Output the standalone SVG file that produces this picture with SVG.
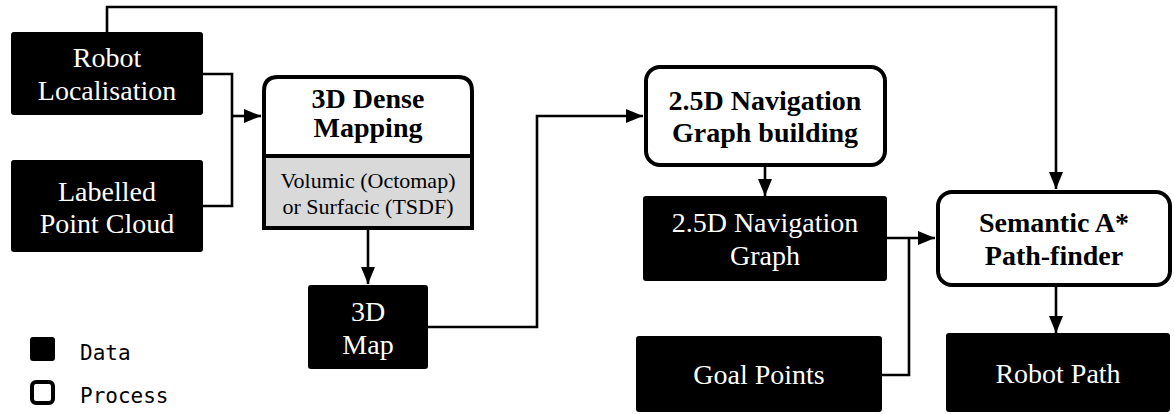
<svg xmlns="http://www.w3.org/2000/svg" width="1174" height="414" viewBox="0 0 1174 414">
<style>
.data{fill:#000;}
.proc{fill:#fff;stroke:#000;stroke-width:4;}
.dt{font-family:"Liberation Serif","Times New Roman",serif;font-size:28px;fill:#fff;text-anchor:middle;}
.pt{font-family:"Liberation Serif","Times New Roman",serif;font-size:28px;font-weight:bold;fill:#000;text-anchor:middle;}
.st{font-family:"Liberation Serif","Times New Roman",serif;font-size:22px;fill:#000;text-anchor:middle;}
.lg{font-family:"DejaVu Sans Mono","Liberation Mono",monospace;font-size:21px;fill:#000;}
.conn{fill:none;stroke:#000;stroke-width:2.6;}
</style>
<defs>
<marker id="arr" markerUnits="userSpaceOnUse" markerWidth="18" markerHeight="14" refX="17" refY="7" orient="auto" viewBox="0 0 18 14">
<path d="M0,0 L17,7 L0,14 z" fill="#000"/>
</marker>
</defs>
<g id="connectors">
<path class="conn" d="M107,32 V7 H1056 V189" marker-end="url(#arr)"/>
<path class="conn" d="M203,74 H232 V206 H203"/>
<path class="conn" d="M232,116 H261" marker-end="url(#arr)"/>
<path class="conn" d="M368,230 V284" marker-end="url(#arr)"/>
<path class="conn" d="M428,327 H537 V116 H643" marker-end="url(#arr)"/>
<path class="conn" d="M765,167 V196" marker-end="url(#arr)"/>
<path class="conn" d="M887,238 H935" marker-end="url(#arr)"/>
<path class="conn" d="M882,375 H909 V238"/>
<path class="conn" d="M1056,287 V333" marker-end="url(#arr)"/>
</g>
<g id="robot-localisation">
<rect class="data" x="11" y="32" width="192" height="83" rx="3"/>
<text class="dt" x="107" y="67">Robot</text>
<text class="dt" x="107" y="100">Localisation</text>
</g>
<g id="labelled-point-cloud">
<rect class="data" x="11" y="160" width="192" height="92" rx="3"/>
<text class="dt" x="107" y="201">Labelled</text>
<text class="dt" x="107" y="233">Point Cloud</text>
</g>
<g id="dense-mapping">
<path d="M264,156 V228 H472 V156 z" fill="#d9d9d9"/>
<path class="proc" d="M264,228 V91 Q264,77 278,77 H458 Q472,77 472,91 V228 z" fill="none" style="fill:none"/>
<line x1="264" y1="156" x2="472" y2="156" stroke="#000" stroke-width="4"/>
<text class="pt" x="368" y="108">3D Dense</text>
<text class="pt" x="368" y="137">Mapping</text>
<text class="st" x="368" y="188">Volumic (Octomap)</text>
<text class="st" x="368" y="214">or Surfacic (TSDF)</text>
</g>
<g id="map-3d">
<rect class="data" x="308" y="285" width="120" height="84" rx="3"/>
<text class="dt" x="368" y="321">3D</text>
<text class="dt" x="368" y="354">Map</text>
</g>
<g id="nav-graph-building">
<rect class="proc" x="646" y="67" width="239" height="98" rx="14"/>
<text class="pt" x="765" y="110">2.5D Navigation</text>
<text class="pt" x="765" y="142">Graph building</text>
</g>
<g id="nav-graph">
<rect class="data" x="643" y="196" width="244" height="85" rx="3"/>
<text class="dt" x="765" y="232">2.5D Navigation</text>
<text class="dt" x="765" y="265">Graph</text>
</g>
<g id="goal-points">
<rect class="data" x="636" y="336" width="246" height="76" rx="3"/>
<text class="dt" x="759" y="384">Goal Points</text>
</g>
<g id="semantic-astar">
<rect class="proc" x="938" y="192" width="232" height="93" rx="14"/>
<text class="pt" x="1054" y="232">Semantic A*</text>
<text class="pt" x="1054" y="265">Path-finder</text>
</g>
<g id="robot-path">
<rect class="data" x="946" y="333" width="224" height="79" rx="3"/>
<text class="dt" x="1058" y="383">Robot Path</text>
</g>
<g id="legend">
<rect x="30" y="337" width="25" height="24" rx="3" fill="#000"/>
<rect x="32" y="382" width="21" height="21" rx="4" fill="#fff" stroke="#000" stroke-width="4"/>
<text class="lg" x="80" y="360">Data</text>
<text class="lg" x="80" y="403">Process</text>
</g>
</svg>
